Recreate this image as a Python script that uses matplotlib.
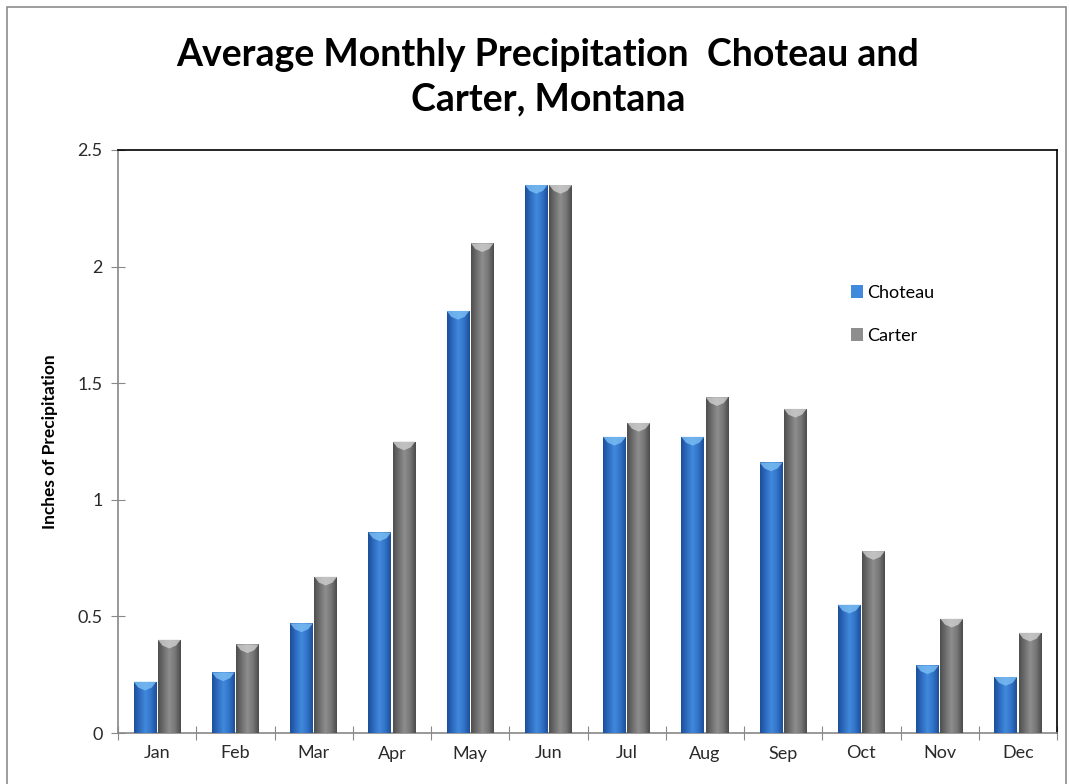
import numpy as np
import matplotlib
matplotlib.use("Agg")
import matplotlib.pyplot as plt
from matplotlib.colors import LinearSegmentedColormap
from matplotlib.patches import Rectangle, Polygon

months = ["Jan", "Feb", "Mar", "Apr", "May", "Jun",
          "Jul", "Aug", "Sep", "Oct", "Nov", "Dec"]
choteau = [0.22, 0.26, 0.47, 0.86, 1.81, 2.35, 1.27, 1.27, 1.16, 0.55, 0.29, 0.24]
carter = [0.40, 0.38, 0.67, 1.25, 2.10, 2.35, 1.33, 1.44, 1.39, 0.78, 0.49, 0.43]
yticks = [0, 0.5, 1, 1.5, 2, 2.5]
ytick_labels = ["0", "0.5", "1", "1.5", "2", "2.5"]

# dark edge -> body -> light -> body -> dark edge, across each bar
blue_cmap = LinearSegmentedColormap.from_list(
    "bluebar", ["#1c4f9a", "#2f6cc0", "#4189dc", "#3273c8", "#1d4f98"])
grey_cmap = LinearSegmentedColormap.from_list(
    "greybar", ["#4e4e4e", "#6f6f6f", "#8e8e8e", "#777777", "#4c4c4c"])

fig = plt.figure(figsize=(10.7, 7.84), dpi=100)
fig.patches.append(Rectangle((7 / 1070, -0.01), 1059 / 1070, 1 - 7 / 784 + 0.01,
                             transform=fig.transFigure, fill=False,
                             edgecolor="#8c8c8c", linewidth=1.2))
ax = fig.add_axes([118 / 1070, 51 / 784, 939 / 1070, 583 / 784])

x = np.arange(len(months))
w = 0.29
off = 0.155
grad = np.linspace(0, 1, 64).reshape(1, -1)


def shaded_bars(xs, vals, cmap, cap, label):
    bars = ax.bar(xs, vals, w, color=cmap(0.5), edgecolor="none", label=label, zorder=2)
    for b in bars:
        x0, h = b.get_x(), b.get_height()
        im = ax.imshow(grad, cmap=cmap, aspect="auto", extent=(x0, x0 + w, 0, h),
                       zorder=3, interpolation="bilinear")
        im.set_clip_path(b)
        # bevelled top cap
        d = 0.025
        ax.add_patch(Polygon([(x0, h), (x0 + w, h), (x0 + w * 0.8, h - d),
                              (x0 + w * 0.5, h - d * 1.5), (x0 + w * 0.2, h - d)],
                             closed=True, facecolor=cap, edgecolor="none", alpha=0.8, zorder=4))
    return bars


shaded_bars(x - off, choteau, blue_cmap, "#7cc0f5", "Choteau")
shaded_bars(x + off, carter, grey_cmap, "#d0d0d0", "Carter")

tick_font = {"family": "Lato", "size": 13}

ax.set_xlim(-0.5, 11.5)
ax.set_ylim(0, 2.5)
ax.set_xticks(np.arange(-0.5, 12, 1))
ax.set_xticklabels([])
ax.set_xticks(x, minor=True)
ax.set_xticklabels(months, minor=True, fontdict=tick_font, color="#2a2a2a")
ax.tick_params(axis="x", which="minor", length=0, pad=9)
ax.tick_params(axis="x", which="major", length=10, direction="inout", color="#888888")
ax.set_yticks(yticks)
ax.set_yticklabels(ytick_labels, fontdict=tick_font, color="#2a2a2a")
ax.tick_params(axis="y", length=10, direction="inout", color="#888888", pad=6)

for side in ["top", "right"]:
    ax.spines[side].set_color("black")
    ax.spines[side].set_linewidth(1.2)
for side in ["left", "bottom"]:
    ax.spines[side].set_color("#888888")
    ax.spines[side].set_linewidth(1.2)

ax.set_ylabel("Inches of Precipitation", fontsize=12.5, fontfamily="Lato",
              fontweight="bold", labelpad=14)

fig.text(0.512, 0.902, "Average Monthly Precipitation  Choteau and\nCarter, Montana",
         ha="center", va="center", fontsize=27, fontfamily="Lato", fontweight="bold",
         linespacing=1.38)

leg = ax.legend(loc="upper left", bbox_to_anchor=(0.763, 0.797), frameon=False,
                prop={"family": "Lato", "size": 13},
                handlelength=0.7, handleheight=0.7, handletextpad=0.2, labelspacing=1.5)

fig.savefig("out.png", dpi=100)
